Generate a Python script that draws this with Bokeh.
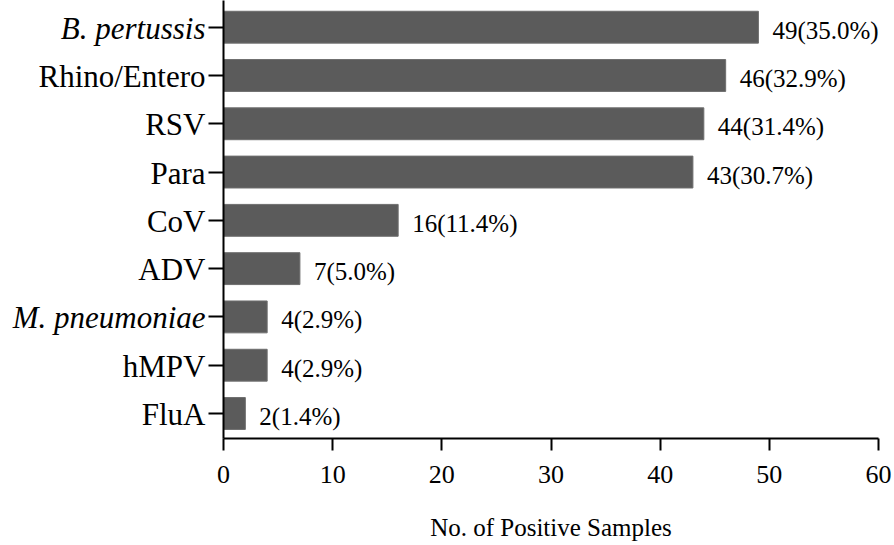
from bokeh.plotting import figure
from bokeh.layouts import row
from bokeh.models import Range1d, FixedTicker, ColumnDataSource
from bokeh.embed import file_html
from bokeh.resources import INLINE
from bokeh.core.properties import value

categories = ["B. pertussis", "Rhino/Entero", "RSV", "Para", "CoV", "ADV",
              "M. pneumoniae", "hMPV", "FluA"]
category_styles = ["italic", "normal", "normal", "normal", "normal", "normal",
                   "italic", "normal", "normal"]
counts = [49, 46, 44, 43, 16, 7, 4, 4, 2]
count_labels = ["49(35.0%)", "46(32.9%)", "44(31.4%)", "43(30.7%)", "16(11.4%)",
                "7(5.0%)", "4(2.9%)", "4(2.9%)", "2(1.4%)"]
x_ticks = [0, 10, 20, 30, 40, 50, 60]

FONT = "Liberation Serif"
n = len(categories)
ypos = [n - 1 - i for i in range(n)]

bar_src = ColumnDataSource(dict(y=ypos, x=counts, lab=count_labels))
cat_src = ColumnDataSource(dict(y=ypos, x=[1] * n, name=categories, style=category_styles))

y_range = Range1d(-0.518, n - 1 + 0.553)
H = 545
BOTTOM = 107
LEFT_W = 207

# ---- left panel with category names (allows italic species names) ----
left = figure(width=LEFT_W, height=H, output_backend="svg", toolbar_location=None,
              x_range=Range1d(0, 1), y_range=y_range,
              x_axis_location=None, y_axis_location=None,
              min_border_left=0, min_border_right=0, min_border_top=0,
              min_border_bottom=BOTTOM)
left.outline_line_color = None
left.xgrid.visible = False
left.ygrid.visible = False
left.text(x="x", y="y", text="name", source=cat_src, x_offset=-2, y_offset=1,
          text_align="right", text_baseline="middle",
          text_font=value(FONT), text_font_size="31px",
          text_font_style="style", text_color="black")

# ---- main bar chart ----
p = figure(width=894 - LEFT_W, height=H, output_backend="svg", toolbar_location=None,
           x_range=Range1d(0, 60), y_range=y_range,
           min_border_left=16, min_border_right=16, min_border_top=0,
           min_border_bottom=BOTTOM)
p.outline_line_color = None
p.xgrid.visible = False
p.ygrid.visible = False

p.hbar(y="y", right="x", left=0, height=0.66, source=bar_src,
       fill_color="#5b5b5b", line_color="#6e6e6e", line_width=1)

p.text(x="x", y="y", text="lab", source=bar_src, x_offset=14, y_offset=3,
       text_baseline="middle", text_align="left",
       text_font=value(FONT), text_font_size="25px", text_color="black")

xa = p.xaxis[0]
xa.ticker = FixedTicker(ticks=x_ticks)
xa.axis_line_width = 2
xa.major_tick_line_width = 2
xa.major_tick_out = 12
xa.major_tick_in = 0
xa.minor_tick_out = 0
xa.minor_tick_in = 0
xa.major_label_text_font = FONT
xa.major_label_text_font_size = "26px"
xa.major_label_text_color = "black"
xa.major_label_standoff = 15
xa.axis_label = "No. of Positive Samples"
xa.axis_label_text_font = FONT
xa.axis_label_text_font_size = "25px"
xa.axis_label_text_font_style = "normal"
xa.axis_label_text_color = "black"
xa.axis_label_standoff = 28

ya = p.yaxis[0]
ya.ticker = FixedTicker(ticks=ypos)
ya.major_label_overrides = {y: "" for y in ypos}
ya.axis_line_width = 2
ya.major_tick_line_width = 2
ya.major_tick_out = 15
ya.major_tick_in = 0
ya.minor_tick_out = 0
ya.minor_tick_in = 0
ya.major_label_standoff = 0
ya.major_label_text_font_size = "1px"

layout = row(left, p)
open("out.html", "w").write(file_html(layout, INLINE))
